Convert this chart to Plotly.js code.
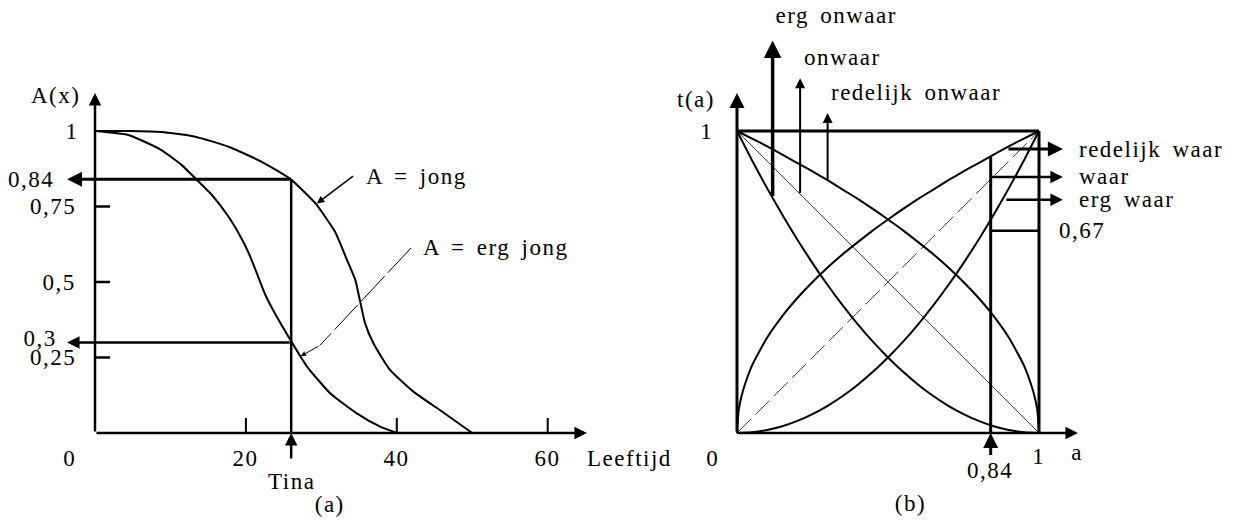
<!DOCTYPE html>
<html>
<head>
<meta charset="utf-8">
<script src="https://cdn.plot.ly/plotly-3.0.1.min.js"></script>
<style>
  html, body { margin: 0; padding: 0; background: #fff; }
  #chart { width: 1245px; height: 529px; }
</style>
</head>
<body>
<div id="chart"></div>
<script>
// ---------- (a) membership of "jong" / "erg jong" by age ----------
const leeftijdJong = [0, 4.4, 8.8, 13.3, 17.7, 22.1, 25.8, 29.2, 31.8, 33.4, 34.5, 35.1, 35.8, 36.9, 39.1, 42.2, 45.7, 50];
const jong         = [1, 1, 0.997, 0.981, 0.948, 0.898, 0.843, 0.761, 0.667, 0.573, 0.507, 0.44, 0.363, 0.297, 0.209, 0.137, 0.076, 0];

const leeftijdErgJong = [0, 4.4, 8.8, 11.5, 13.3, 15.5, 17.7, 19.4, 20.3, 21.2, 22.5, 23.6, 25.9, 28.1, 31.2, 34.7, 37.8, 40];
const ergJong         = [1, 0.987, 0.937, 0.887, 0.843, 0.788, 0.716, 0.645, 0.6, 0.545, 0.462, 0.407, 0.308, 0.22, 0.131, 0.065, 0.021, 0];

const tinaLeeftijd = 26;
const tinaJong = 0.84;
const tinaErgJong = 0.3;

const ageTicks = [20, 40, 60];
const ageTickLabels = ['20', '40', '60'];
const memberTicks = [0.25, 0.5, 0.75];
const memberTickLabels = ['0,25', '0,5', '0,75'];

// ---------- (b) truth functions ----------
const aWortel = [0, 0.005, 0.01, 0.02, 0.05, 0.1, 0.15, 0.2, 0.25, 0.3, 0.35, 0.4, 0.45, 0.5, 0.55, 0.6, 0.65, 0.7, 0.75, 0.8, 0.85, 0.9, 0.95, 1];
const redelijkWaar = [0, 0.071, 0.1, 0.141, 0.224, 0.316, 0.387, 0.447, 0.5, 0.548, 0.592, 0.632, 0.671, 0.707, 0.742, 0.775, 0.806, 0.837, 0.866, 0.894, 0.922, 0.949, 0.975, 1];

const aOnwaarWortel = [0, 0.05, 0.1, 0.15, 0.2, 0.25, 0.3, 0.35, 0.4, 0.45, 0.5, 0.55, 0.6, 0.65, 0.7, 0.75, 0.8, 0.85, 0.9, 0.95, 0.98, 0.99, 0.995, 1];
const redelijkOnwaar = [1, 0.975, 0.949, 0.922, 0.894, 0.866, 0.837, 0.806, 0.775, 0.742, 0.707, 0.671, 0.632, 0.592, 0.548, 0.5, 0.447, 0.387, 0.316, 0.224, 0.141, 0.1, 0.071, 0];

const aKwadraat = [0, 0.05, 0.1, 0.15, 0.2, 0.25, 0.3, 0.35, 0.4, 0.45, 0.5, 0.55, 0.6, 0.65, 0.7, 0.75, 0.8, 0.85, 0.9, 0.95, 1];
const ergWaar   = [0, 0.0025, 0.01, 0.0225, 0.04, 0.0625, 0.09, 0.1225, 0.16, 0.2025, 0.25, 0.3025, 0.36, 0.4225, 0.49, 0.5625, 0.64, 0.7225, 0.81, 0.9025, 1];
const ergOnwaar = [1, 0.9025, 0.81, 0.7225, 0.64, 0.5625, 0.49, 0.4225, 0.36, 0.3025, 0.25, 0.2025, 0.16, 0.1225, 0.09, 0.0625, 0.04, 0.0225, 0.01, 0.0025, 0];

const aLijn = [0, 1];
const waar = [0, 1];
const onwaar = [1, 0];

const aBewering = 0.84;
const tErgWaar = 0.67;

// ---------- helpers ----------
const FONT = { family: 'Liberation Serif, Times New Roman, serif', size: 23, color: '#000' };
const LETTER_SPACING = '1.5px';
const WORD_SPACING = '4px';
const annotations = [];
const shapes = [];

function label(xa, ya, x, y, text, xanchor) {
  const anchor = xanchor || 'center';
  annotations.push({ xref: xa, yref: ya, x, y, text, showarrow: false,
    xanchor: anchor, align: anchor, yanchor: 'middle', font: FONT });
}
function arrow(xa, ya, x0, y0, x1, y1, w, size) {
  // tail (x0,y0) -> head (x1,y1)
  annotations.push({ xref: xa, yref: ya, axref: xa, ayref: ya,
    x: x1, y: y1, ax: x0, ay: y0, text: '', showarrow: true,
    arrowhead: 2, arrowsize: size || 1, arrowwidth: w, arrowcolor: '#000',
    standoff: 0, startstandoff: 0 });
}
function seg(xa, ya, x0, y0, x1, y1, w, color, dash) {
  shapes.push({ type: 'line', xref: xa, yref: ya, x0, y0, x1, y1,
    line: { color: color || '#000', width: w, dash: dash || 'solid' } });
}
function curve(xa, ya, xs, ys, w, color, dash, shape) {
  return { type: 'scatter', mode: 'lines', xaxis: xa, yaxis: ya, x: xs, y: ys,
    hoverinfo: 'skip', showlegend: false,
    line: { color: color || '#000', width: w, dash: dash || 'solid',
            shape: shape || 'spline', smoothing: 0.5 } };
}

// ---------- panel (a) ----------
const traces = [];
traces.push(curve('x', 'y', leeftijdJong, jong, 2));
traces.push(curve('x', 'y', leeftijdErgJong, ergJong, 2));

// axes with arrowheads
arrow('x', 'y', 0, 0, 0, 1.126, 2.5, 1);
arrow('x', 'y', 0, 0, 65.2, 0, 2.5, 1);
memberTicks.forEach((v, i) => {
  seg('x', 'y', 0, v, 2.0, v, 2.5);
  label('x', 'y', -2.2, v, memberTickLabels[i], 'right');
});
ageTicks.forEach((v, i) => {
  seg('x', 'y', v, 0, v, 0.05, 2);
  label('x', 'y', v, -0.083, ageTickLabels[i]);
});
label('x', 'y', -3.3, -0.083, '0');
label('x', 'y', -1.9, 1, '1', 'right');
label('x', 'y', -5.2, 1.119, 'A(x)');
label('x', 'y', 65.0, -0.083, 'Leeftijd', 'left');
label('x', 'y', tinaLeeftijd, -0.162, 'Tina');
label('x', 'y', 31.1, -0.238, '(a)');

// Tina: age up to the curve, then across to the membership values
seg('x', 'y', tinaLeeftijd, 0, tinaLeeftijd, tinaJong, 2.5);
arrow('x', 'y', tinaLeeftijd, -0.089, tinaLeeftijd, 0, 2.5, 1);
arrow('x', 'y', tinaLeeftijd, tinaJong, -3.7, tinaJong, 3, 1);
arrow('x', 'y', tinaLeeftijd, tinaErgJong, -3.7, tinaErgJong, 2.5, 1);
label('x', 'y', -5.0, tinaJong, '0,84', 'right');
label('x', 'y', -4.8, tinaErgJong + 0.012, '0,3', 'right');

// curve names
label('x', 'y', 35.6, 0.848, 'A = jong', 'left');
arrow('x', 'y', 34.4, 0.854, 29.4, 0.76, 1.5, 1);
label('x', 'y', 43.2, 0.613, 'A = erg jong', 'left');
traces.push(curve('x', 'y', [41.9, 29.8], [0.613, 0.29], 1, '#000', '34px,5px', 'linear'));
arrow('x', 'y', 29.8, 0.29, 27.3, 0.255, 1, 1);

// ---------- panel (b) ----------
traces.push(curve('x2', 'y2', aLijn, waar, 1, '#444', '20px,6px', 'linear'));
traces.push(curve('x2', 'y2', aLijn, onwaar, 1, '#444', 'solid', 'linear'));
traces.push(curve('x2', 'y2', aWortel, redelijkWaar, 2));
traces.push(curve('x2', 'y2', aKwadraat, ergWaar, 2));
traces.push(curve('x2', 'y2', aOnwaarWortel, redelijkOnwaar, 2));
traces.push(curve('x2', 'y2', aKwadraat, ergOnwaar, 2));

// axes and frame
arrow('x2', 'y2', 0, 0, 0, 1.126, 3, 1);
arrow('x2', 'y2', 0, 0, 1.129, 0, 2.5, 1);
seg('x2', 'y2', 0, 1, 1, 1, 3);
seg('x2', 'y2', 1, 0, 1, 1, 3);
label('x2', 'y2', -0.136, 1.103, 't(a)');
label('x2', 'y2', -0.099, 1, '1');
label('x2', 'y2', -0.079, -0.083, '0');
label('x2', 'y2', 1, -0.079, '1');
label('x2', 'y2', 1.126, -0.066, 'a');
label('x2', 'y2', aBewering, -0.123, '0,84');
label('x2', 'y2', 0.573, -0.232, '(b)');

// a = 0,84
seg('x2', 'y2', aBewering, 0, aBewering, 0.915, 3);
arrow('x2', 'y2', aBewering, -0.078, aBewering, 0, 3, 1);
seg('x2', 'y2', aBewering, tErgWaar, 1, tErgWaar, 2.5);
label('x2', 'y2', 1.06, tErgWaar, '0,67', 'left');

// curve names on the right
arrow('x2', 'y2', 0.894, 0.94, 1.079, 0.94, 3, 1);
label('x2', 'y2', 1.126, 0.94, 'redelijk waar', 'left');
arrow('x2', 'y2', 0.838, 0.848, 1.079, 0.848, 2.5, 1);
label('x2', 'y2', 1.126, 0.848, 'waar', 'left');
arrow('x2', 'y2', 0.887, 0.772, 1.079, 0.772, 2.5, 1);
label('x2', 'y2', 1.126, 0.772, 'erg waar', 'left');

// curve names on top
arrow('x2', 'y2', 0.118, 0.78, 0.118, 1.30, 3.5, 1);
label('x2', 'y2', 0.33, 1.384, 'erg onwaar');
arrow('x2', 'y2', 0.209, 0.79, 0.209, 1.175, 2, 1);
label('x2', 'y2', 0.215, 1.245, 'onwaar', 'left');
arrow('x2', 'y2', 0.30, 0.835, 0.30, 1.06, 2, 1);
label('x2', 'y2', 0.305, 1.126, 'redelijk onwaar', 'left');

// ---------- layout ----------
const YR = [-0.31788, 1.43377];
const hidden = { visible: false, showgrid: false, zeroline: false, fixedrange: true };
const layout = {
  width: 1245, height: 529, autosize: false,
  margin: { l: 0, r: 0, t: 0, b: 0, pad: 0 },
  paper_bgcolor: '#fff', plot_bgcolor: 'rgba(0,0,0,0)',
  showlegend: false,
  xaxis:  Object.assign({ domain: [0, 0.5], range: [-12.591, 69.914], anchor: 'y' }, hidden),
  yaxis:  Object.assign({ domain: [0, 1], range: YR, anchor: 'x' }, hidden),
  xaxis2: Object.assign({ domain: [0.5, 1], range: [-0.37914, 1.68212], anchor: 'y2' }, hidden),
  yaxis2: Object.assign({ domain: [0, 1], range: YR, anchor: 'x2' }, hidden),
  shapes, annotations
};
Plotly.newPlot('chart', traces, layout, { staticPlot: true, displayModeBar: false })
  .then(gd => {
    // the labels are set a little wider, in the manner of book typesetting
    gd.querySelectorAll('.annotation-text').forEach(t => {
      t.style.letterSpacing = LETTER_SPACING;
      t.style.wordSpacing = WORD_SPACING;
    });
  });
</script>
</body>
</html>
